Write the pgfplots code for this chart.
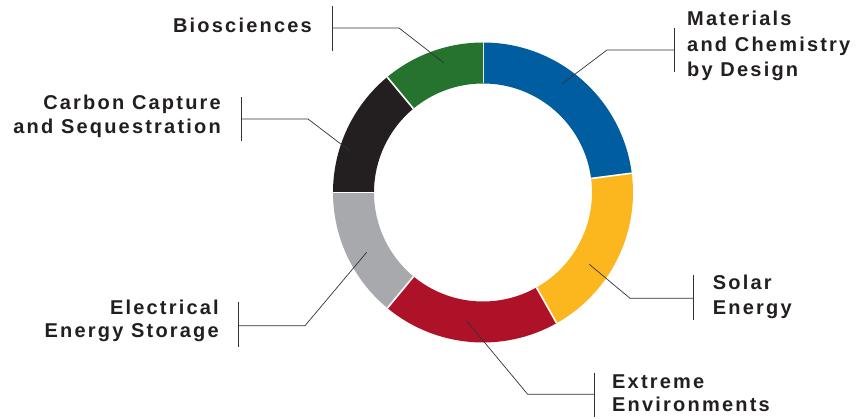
\documentclass[border=0pt]{standalone}
\usepackage{pgfplots}
\usepackage{pgfplotstable}
\pgfplotsset{compat=1.18}
\usepackage{fontspec}
\newfontfamily\labfont{Liberation Sans Bold}[LetterSpace=11]
\definecolor{slice0}{RGB}{0,94,160}
\definecolor{slice1}{RGB}{253,183,30}
\definecolor{slice2}{RGB}{174,18,40}
\definecolor{slice3}{RGB}{167,169,172}
\definecolor{slice4}{RGB}{35,31,32}
\definecolor{slice5}{RGB}{37,115,46}
\definecolor{txt}{RGB}{35,31,32}
\definecolor{lead}{RGB}{50,50,50}
% share of each area, in degrees of the ring, clockwise from the top
\pgfplotstableread{
area value
Materials 82.6
Solar 68.0
Extreme 69.0
Electrical 50.4
Carbon 50.3
Biosciences 39.7
}\slices
\begin{document}
\begin{tikzpicture}
\begin{axis}[
  width=865pt, height=418pt, scale only axis,
  xmin=0, xmax=865, ymin=0, ymax=418,
  enlargelimits=false, hide axis, clip=false,
]
\path (axis cs:0,0) rectangle (axis cs:865,418);
\def\cx{483}\def\cy{225.5}\def\Ro{150}\def\Ri{109}
\pgfplotstablegetrowsof{\slices}
\pgfmathtruncatemacro\N{\pgfplotsretval-1}
\gdef\angstart{90}
\pgfplotsforeachungrouped \i in {0,...,\N}{%
  \pgfplotstablegetelem{\i}{value}\of\slices
  \pgfmathsetmacro\angend{\angstart-\pgfplotsretval}%
  \pgfmathsetmacro\xa{\cx+\Ro*cos(\angstart)}%
  \pgfmathsetmacro\ya{\cy+\Ro*sin(\angstart)}%
  \pgfmathsetmacro\xb{\cx+\Ri*cos(\angend)}%
  \pgfmathsetmacro\yb{\cy+\Ri*sin(\angend)}%
  \pgfmathsetmacro\xd{\cx+\Ri*cos(\angstart)}%
  \pgfmathsetmacro\yd{\cy+\Ri*sin(\angstart)}%
  \edef\temp{\noexpand\fill[slice\i] (axis cs:\xa,\ya) arc[start angle=\angstart, end angle=\angend, radius=\Ro pt] -- (axis cs:\xb,\yb) arc[start angle=\angend, end angle=\angstart, radius=\Ri pt] -- cycle;
  \noexpand\draw[white, line width=1.6pt] (axis cs:\xd,\yd) -- (axis cs:\xa,\ya);}%
  \temp
  \global\let\angstart\angend
}
% leader lines
\draw[lead, line width=0.7pt] (axis cs:332,412) -- (axis cs:332,367);
\draw[lead, line width=0.7pt] (axis cs:332,390) -- (axis cs:399,390) -- (axis cs:444,355);
\draw[lead, line width=0.7pt] (axis cs:674,390) -- (axis cs:674,346);
\draw[lead, line width=0.7pt] (axis cs:674,368) -- (axis cs:607,368) -- (axis cs:562,334);
\draw[lead, line width=0.7pt] (axis cs:241,321) -- (axis cs:241,277);
\draw[lead, line width=0.7pt] (axis cs:241,299) -- (axis cs:308,299) -- (axis cs:350,267);
\draw[lead, line width=0.7pt] (axis cs:238,116) -- (axis cs:238,71);
\draw[lead, line width=0.7pt] (axis cs:238,92.3) -- (axis cs:305,92.3) -- (axis cs:366.7,165.7);
\draw[lead, line width=0.7pt] (axis cs:693,143) -- (axis cs:693,98);
\draw[lead, line width=0.7pt] (axis cs:693,119.7) -- (axis cs:630,119.7) -- (axis cs:589.3,153.7);
\draw[lead, line width=0.7pt] (axis cs:594.3,45.3) -- (axis cs:594.3,1);
\draw[lead, line width=0.7pt] (axis cs:594.3,23.7) -- (axis cs:527.7,23.7) -- (axis cs:466.7,97);
% labels
\tikzset{lab/.style={inner sep=0pt, text=txt, font=\labfont\fontsize{20}{22}\selectfont}}
\node[lab, anchor=base east] at (axis cs:312,385.7) {Biosciences};
\node[lab, anchor=base west] at (axis cs:687,392.3) {Materials};
\node[lab, anchor=base west] at (axis cs:687,366.3) {and Chemistry};
\node[lab, anchor=base west] at (axis cs:687,341.3) {by Design};
\node[lab, anchor=base east] at (axis cs:221,308) {Carbon Capture};
\node[lab, anchor=base east] at (axis cs:221,284) {and Sequestration};
\node[lab, anchor=base east] at (axis cs:219,103) {Electrical};
\node[lab, anchor=base east] at (axis cs:219,81) {Energy Storage};
\node[lab, anchor=base west] at (axis cs:712.7,128) {Solar};
\node[lab, anchor=base west] at (axis cs:712.7,103) {Energy};
\node[lab, anchor=base west] at (axis cs:612,29.7) {Extreme};
\node[lab, anchor=base west] at (axis cs:612,6.3) {Environments};
\end{axis}
\end{tikzpicture}
\end{document}
